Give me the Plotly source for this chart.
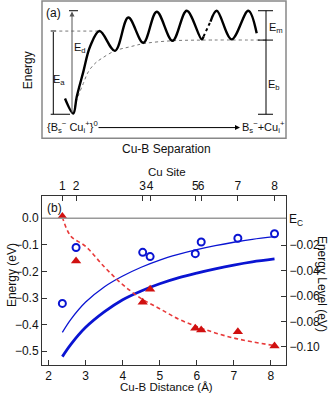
import plotly.graph_objects as go

# ---------------- Panel (b) data ----------------
cu_site = ["1", "2", "3", "4", "5", "6", "7", "8"]
distance = [2.37, 2.74, 4.54, 4.74, 5.96, 6.12, 7.11, 8.10]
binding_energy = [-0.320, -0.110, -0.128, -0.144, -0.133, -0.089, -0.075, -0.058]   # open circles, left axis
energy_level = [0.0024, -0.0325, -0.0649, -0.0547, -0.0854, -0.0867, -0.0881, -0.0993]  # triangles, right axis

fit_x = [2.37, 2.6, 3.0, 3.5, 4.0, 4.5, 5.0, 5.5, 6.0, 6.5, 7.0, 7.5, 8.1]
fit_thin = [-0.429, -0.380, -0.315, -0.258, -0.217, -0.184, -0.157, -0.136, -0.118, -0.103, -0.090, -0.079, -0.069]
fit_thick = [-0.520, -0.474, -0.410, -0.352, -0.306, -0.273, -0.246, -0.224, -0.206, -0.190, -0.176, -0.164, -0.153]
level_fit = [0.002, -0.013, -0.021, -0.037, -0.051, -0.062, -0.070, -0.078, -0.084, -0.089, -0.093, -0.096, -0.099]

left_ticks = [0.0, -0.1, -0.2, -0.3, -0.4, -0.5]
right_ticks = [-0.02, -0.04, -0.06, -0.08, -0.10]
x_ticks = [2, 3, 4, 5, 6, 7, 8]

# ---------------- Panel (a) schematic (arbitrary units) ----------------
pot1_x = [23, 31.3, 34.7, 41.3, 48, 57.5, 73, 86.3, 101.3, 114.7, 130.5, 144.7, 159.7, 161.5]
pot1_e = [39.7, 24.7, 41.3, 66.3, 91.3, 107, 87.3, 120.5, 95.3, 126.3, 97.3, 127.3, 98.7, 101.5]
pot_gap_x = [161.5, 165, 168.5]
pot_gap_e = [101.5, 109, 116.5]
pot2_x = [168.5, 174.7, 189.7, 206.3, 214.7]
pot2_e = [116.5, 127.3, 98.7, 127.3, 104.7]
env_x = [31.3, 34.7, 41.3, 46.3, 53, 59.7, 73, 88, 103, 129.7, 159.7, 224]
env_e = [24.7, 38, 54.7, 66.3, 74.7, 79.7, 87.3, 91.3, 94.7, 97.3, 98, 98]

FONT = "Liberation Sans"
BLUE = "#0a14d2"
RED = "#d01010"

fig = go.Figure()

# ---- panel b traces
fig.add_trace(go.Scatter(x=fit_x, y=level_fit, mode="lines", yaxis="y2", xaxis="x",
                         line=dict(color="#e83a3a", width=1.6, dash="4px,3px", shape="spline"), showlegend=False))
fig.add_trace(go.Scatter(x=fit_x, y=fit_thin, mode="lines", line=dict(color=BLUE, width=1.3, shape="spline"),
                         showlegend=False))
fig.add_trace(go.Scatter(x=fit_x, y=fit_thick, mode="lines", line=dict(color=BLUE, width=2.8, shape="spline"),
                         showlegend=False))
fig.add_trace(go.Scatter(x=distance, y=binding_energy, mode="markers",
                         marker=dict(symbol="circle-open", size=7, color=BLUE, line=dict(width=2, color=BLUE)),
                         showlegend=False))
fig.add_trace(go.Scatter(x=distance, y=energy_level, mode="markers", yaxis="y2",
                         marker=dict(symbol="triangle-up", size=9, color=RED), showlegend=False))
# invisible trace to activate the top axis
fig.add_trace(go.Scatter(x=distance, y=binding_energy, xaxis="x2", mode="markers",
                         marker=dict(opacity=0), hoverinfo="skip", showlegend=False))

# ---- panel a traces
fig.add_trace(go.Scatter(x=env_x, y=env_e, xaxis="x3", yaxis="y3", mode="lines",
                         line=dict(color="#777", width=1, dash="dot", shape="spline"), showlegend=False))
fig.add_trace(go.Scatter(x=[11.3, 57.5], y=[107, 107], xaxis="x3", yaxis="y3", mode="lines",
                         line=dict(color="#777", width=1, dash="dot"), showlegend=False))
fig.add_trace(go.Scatter(x=pot1_x, y=pot1_e, xaxis="x3", yaxis="y3", mode="lines",
                         line=dict(color="black", width=2.4, shape="spline"), showlegend=False))
fig.add_trace(go.Scatter(x=pot_gap_x, y=pot_gap_e, xaxis="x3", yaxis="y3", mode="lines",
                         line=dict(color="black", width=2, dash="dot"), showlegend=False))
fig.add_trace(go.Scatter(x=pot2_x, y=pot2_e, xaxis="x3", yaxis="y3", mode="lines",
                         line=dict(color="black", width=2.4, shape="spline"), showlegend=False))

# Brackets (Ea, Ed, Em, Eb)
seg = dict(xaxis="x3", yaxis="y3", mode="lines", showlegend=False, hoverinfo="skip")
fig.add_trace(go.Scatter(x=[11.3, 11.3], y=[24, 107], line=dict(color="black", width=1), **seg))
fig.add_trace(go.Scatter(x=[8.7, 14], y=[107, 107], line=dict(color="#888", width=2), **seg))
fig.add_trace(go.Scatter(x=[8.7, 28], y=[24, 24], line=dict(color="black", width=1), **seg))
fig.add_trace(go.Scatter(x=[27, 36], y=[127.3, 127.3], line=dict(color="black", width=1), **seg))
fig.add_trace(go.Scatter(x=[224, 224], y=[24, 127.3], line=dict(color="black", width=1), **seg))
for e in [127.3, 98, 24]:
    fig.add_trace(go.Scatter(x=[216, 231], y=[e, e], line=dict(color="black", width=1), **seg))

ann = []
# Ed arrow
ann.append(dict(x=30, y=126.5, ax=30, ay=24, xref="x3", yref="y3", axref="x3", ayref="y3", text="",
                showarrow=True, arrowhead=2, arrowsize=1, arrowwidth=1, arrowcolor="#555"))
# separation arrow
ann.append(dict(x=198, y=10.7, ax=55, ay=10.7, xref="x3", yref="y3", axref="x3", ayref="y3", text="",
                showarrow=True, arrowhead=2, arrowsize=1, arrowwidth=1, arrowcolor="black"))
txt = lambda x, y, t, s=11: dict(x=x, y=y, xref="x3", yref="y3", text=t, showarrow=False,
                                 xanchor="center", yanchor="middle",
                                 font=dict(family=FONT, size=s, color="#111"))
ann += [
    txt(11, 125, "(a)", 12),
    txt(16.5, 58, "E<sub>a</sub>"),
    txt(38, 90, "E<sub>d</sub>"),
    txt(234, 110, "E<sub>m</sub>"),
    txt(232, 53, "E<sub>b</sub>"),
    txt(30, 11, "{B<sub>s</sub><sup>−</sup> Cu<sub>i</sub><sup>+</sup>}<sup>0</sup>"),
    txt(221, 11, "B<sub>s</sub><sup>−</sup>+Cu<sub>i</sub><sup>+</sup>"),
]
pf = dict(family=FONT, size=12, color="#111")
tf = dict(family=FONT, size=11.5, color="#111")


def pann(x, y, t, angle=0, font=pf, **k):
    d = dict(x=x, y=y, xref="paper", yref="paper", text=t, textangle=angle, showarrow=False,
             xanchor="center", yanchor="middle", font=font)
    d.update(k)
    return d


ann += [
    pann(-0.057, 0.81, "Energy", -90),
    pann(0.512, 0.593, "Cu-B Separation"),
    pann(0.512, 0.530, "Cu Site", font=tf),
    pann(-0.123, 0.247, "Energy (eV)", -90),
    pann(1.148, 0.2225, "Energy Level (eV)", 90),
    pann(0.512, -0.061, "Cu-B Distance (Å)", font=tf),
    pann(0.053, 0.431, "(b)"),
    dict(x=1.004, y=0, xref="paper", yref="y", text="E<sub>C</sub>", xanchor="left", yanchor="middle",
         yshift=-2, showarrow=False, font=pf),
]

axis_common = dict(showline=True, linecolor="#333", linewidth=1, ticks="inside", ticklen=5,
                   tickcolor="#333", showgrid=False, zeroline=False, tickangle=0,
                   tickfont=dict(family=FONT, size=12, color="#111"))
yb = [0, 0.4643]

fig.update_layout(
    width=335, height=394,
    margin=dict(l=42, r=49, t=1, b=29),
    paper_bgcolor="white", plot_bgcolor="white",
    showlegend=False,
    xaxis=dict(domain=[0, 1], range=[1.82, 8.41], tickvals=x_ticks, anchor="y", **axis_common),
    xaxis2=dict(domain=[0, 1], range=[1.82, 8.41], tickvals=distance, ticktext=cu_site, overlaying="x",
                side="top", anchor="y", **axis_common),
    yaxis=dict(domain=yb, range=[-0.5515, 0.0838], tickvals=left_ticks, tickformat=".1f", anchor="x",
               **axis_common),
    yaxis2=dict(domain=yb, range=[-0.1142, 0.0186], tickvals=right_ticks, tickformat=".2f", overlaying="y",
                side="right", anchor="x", **axis_common),
    xaxis3=dict(domain=[0, 1], range=[0, 244], visible=False, anchor="y3"),
    yaxis3=dict(domain=[0.6228, 1], range=[0, 137], visible=False, anchor="x3"),
    annotations=ann,
    shapes=[
        dict(type="line", xref="x domain", yref="y", x0=0, x1=1, y0=0, y1=0, line=dict(color="#999", width=1.5)),
        dict(type="rect", xref="x3 domain", yref="y3 domain", x0=0, x1=1, y0=0, y1=1,
             line=dict(color="#888", width=1.5)),
    ],
)

fig.write_html("out.html", config={"displayModeBar": False, "staticPlot": True},
               post_script="document.body.style.margin='0';")
